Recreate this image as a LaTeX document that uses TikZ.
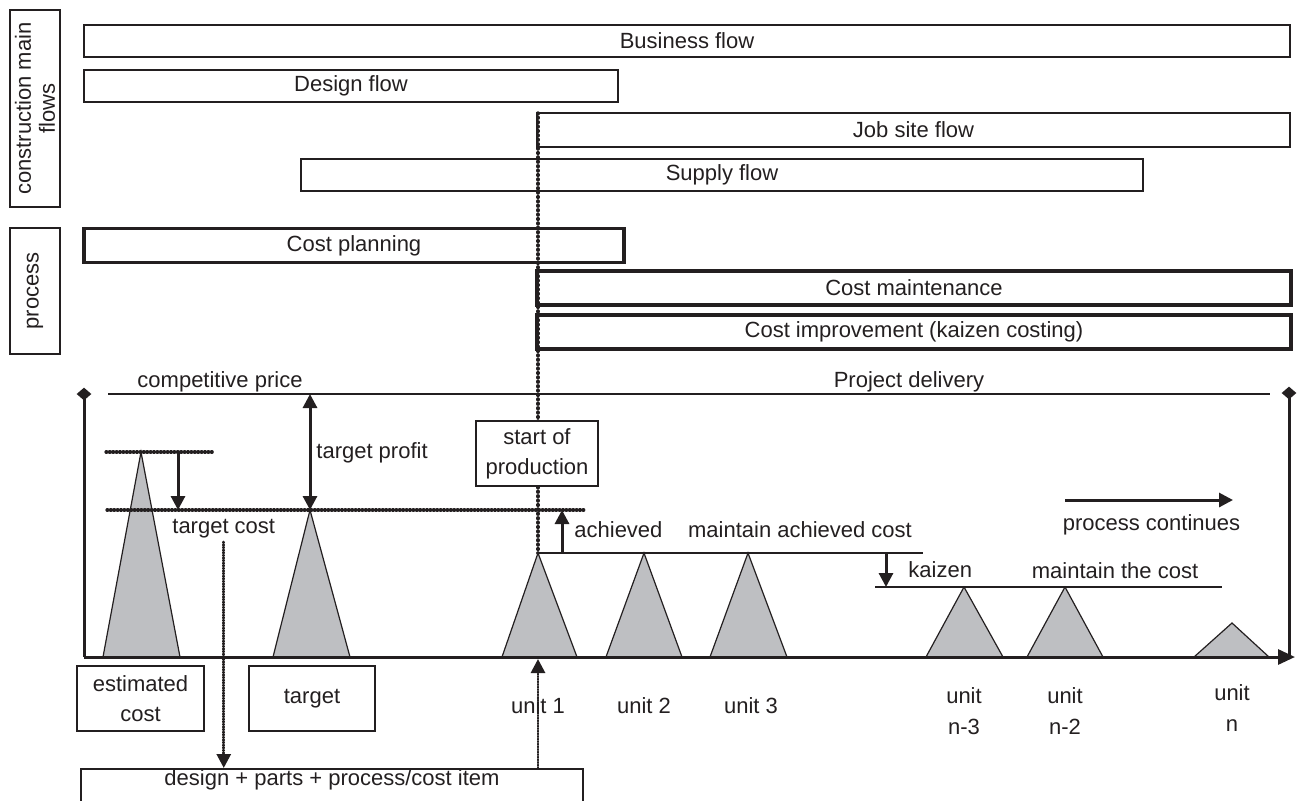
\documentclass[tikz,border=0pt]{standalone}
\usepackage{fontspec}
\setmainfont{Liberation Sans}
\usetikzlibrary{arrows.meta,shapes.geometric}
\definecolor{ink}{RGB}{35,31,32}
\definecolor{trigray}{RGB}{190,191,194}
\begin{document}
\begin{tikzpicture}[
  x=0.5pt, y=-0.5pt, color=ink,
  >={Triangle[length=7pt,width=7pt]},
  txt/.style={font=\fontsize{11}{15.5}\selectfont, inner sep=0pt},
  box/.style={draw, line width=0.85pt, inner sep=0pt, font=\fontsize{11}{15}\selectfont},
  flowbox/.style={box, minimum height=16pt},
  procbox/.style={box, line width=1.75pt, minimum height=17pt},
  sidebox/.style={box, rotate=90, minimum height=25pt},
  thinline/.style={line width=0.8pt},
  axis/.style={line width=1.5pt},
  arr/.style={->, line width=1.5pt},
  bigdots/.style={line width=1.7pt, line cap=round, dash pattern=on 0.4pt off 1.8pt},
  dots/.style={line width=1.6pt, line cap=round, dash pattern=on 0.4pt off 1.3pt},
  dotarr/.style={line width=1.4pt, line cap=round, dash pattern=on 0.4pt off 0.9pt, ->},
  tri/.style={fill=trigray, draw=ink, line width=0.6pt, line join=miter},
  tip/.style={diamond, fill=ink, inner sep=0pt, minimum width=7.5pt, minimum height=6.5pt},
]
\useasboundingbox (0,0) rectangle (1303,800);

% side labels
\node[sidebox, minimum width=98.5pt, align=center, font=\fontsize{11}{12}\selectfont] (flows) at (35,108.5) {construction main\\flows};
\node[sidebox, minimum width=63pt] (process) at (35,291) {process};

% construction flows
\node[flowbox, minimum width=603pt] (business) at (687,41) {Business flow};
\node[flowbox, minimum width=267pt] (designflow) at (351,86) {Design flow};
\node[flowbox, minimum width=376.5pt, minimum height=17pt] (jobsite) at (913.5,130) {Job site flow};
\node[flowbox, minimum width=421pt] (supply) at (722,175) {Supply flow};

% cost processes
\node[procbox, minimum width=270pt] (costplan) at (354,245.5) {Cost planning};
\node[procbox, minimum width=377pt] (costmaint) at (914,288) {Cost maintenance};
\node[procbox, minimum width=377pt] (costimp) at (914,332) {Cost improvement (kaizen costing)};

% start of production marker line
\coordinate (sopTop) at (538,113);
\coordinate (u1) at (538,553);
\draw[bigdots] (sopTop) -- (u1);

% cost peaks
\coordinate (est) at (141,452);
\coordinate (tgt) at (310,510);
\coordinate (u2) at (644,553);
\coordinate (u3) at (748,553);
\coordinate (un3) at (964,587);
\coordinate (un2) at (1065,587);
\coordinate (un) at (1232,623);
\filldraw[tri] (103,657) -- (est) -- (180,657) -- cycle;
\filldraw[tri] (273,657) -- (tgt) -- (350,657) -- cycle;
\filldraw[tri] (502,657) -- (u1) -- (577,657) -- cycle;
\filldraw[tri] (606,657) -- (u2) -- (682,657) -- cycle;
\filldraw[tri] (710,657) -- (u3) -- (787,657) -- cycle;
\filldraw[tri] (926,657) -- (un3) -- (1003,657) -- cycle;
\filldraw[tri] (1027,657) -- (un2) -- (1103,657) -- cycle;
\filldraw[tri] (1194,657) -- (un) -- (1269,657) -- cycle;

% axes
\node[tip] (dl) at (84,394) {};
\node[tip] (dr) at (1289,393) {};
\coordinate (origin) at (84,657);
\coordinate (xend) at (1295,657);
\coordinate (rbase) at (1289,657);
\draw[axis] (dl.center) -- (origin);
\draw[axis, -{Triangle[length=8.5pt,width=7.5pt]}] (origin) -- (xend);
\draw[axis] (dr.center) -- (rbase);

% price line
\coordinate (cpL) at (108,394);
\coordinate (cpR) at (1270,394);
\draw[thinline] (cpL) -- (cpR);
\node[txt, anchor=base] (cprice) at (220,387) {competitive price};
\node[txt, anchor=base] (delivery) at (909,387) {Project delivery};

% target costing
\coordinate (estL) at (106,452);
\coordinate (estR) at (214,452);
\draw[dots] (estL) -- (estR);
\coordinate (tcL) at (107,510);
\coordinate (tcR) at (586,510);
\draw[dots] (tcL) -- (tcR);
\coordinate (dropTop) at (178,452);
\coordinate (dropEnd) at (178,510);
\draw[arr] (dropTop) -- (dropEnd);
\coordinate (profitTop) at (310,394);
\draw[arr, <->] (profitTop) -- (tgt);
\node[txt, anchor=base west] (tprofit) at (316,458) {target profit};
\node[txt, anchor=base west] (tcost) at (172,533) {target cost};

\node[box, fill=white, minimum width=61pt, minimum height=32.5pt, align=center] (sop) at (537,453.5) {start of\\production};

% achieved and kaizen levels
\coordinate (achBase) at (562,553);
\coordinate (achTip) at (562,510);
\draw[arr] (achBase) -- (achTip);
\node[txt, anchor=base west] (achieved) at (574,537) {achieved};
\coordinate (maintR) at (923,553);
\draw[thinline] (u1) -- (maintR);
\node[txt, anchor=base] (maintach) at (800,537) {maintain achieved cost};
\coordinate (kzTop) at (886,553);
\coordinate (kzEnd) at (886,587);
\draw[arr] (kzTop) -- (kzEnd);
\node[txt, anchor=base west] (kaizen) at (908,577) {kaizen};
\coordinate (mcL) at (875,587);
\coordinate (mcR) at (1222,587);
\draw[thinline] (mcL) -- (mcR);
\node[txt, anchor=base] (maintcost) at (1115,578) {maintain the cost};

% process continues
\coordinate (pcL) at (1065,500);
\coordinate (pcR) at (1233,500);
\draw[arr] (pcL) -- (pcR);
\node[txt, anchor=base] (pcont) at (1151.5,530) {process continues};

% lower boxes
\node[box, minimum width=63.5pt, minimum height=32.5pt, align=center] (estbox) at (140.5,698.5) {estimated\\cost};
\node[box, minimum width=63pt, minimum height=32.5pt] (tgtbox) at (312,698.5) {target};
\node[box, anchor=north, minimum width=251pt, text height=8pt, text depth=9pt, inner ysep=0.5pt] (design) at (332,768) {design + parts + process/cost item};

% unit labels
\node[txt, anchor=base] (l1) at (538,713) {unit 1};
\node[txt, anchor=base] (l2) at (644,713) {unit 2};
\node[txt, anchor=base] (l3) at (751,713) {unit 3};
\node[txt, align=center] (ln3) at (964,711) {unit\\n-3};
\node[txt, align=center] (ln2) at (1065,711) {unit\\n-2};
\node[txt, align=center] (ln) at (1232,708.5) {unit\\n};

% links to the item breakdown
\coordinate (axisU1) at (538,659);
\draw[dotarr, shorten <=2pt] (tcost.south) -- (tcost.south |- design.north);
\draw[dotarr] (design.north -| axisU1) -- (axisU1);
\end{tikzpicture}
\end{document}
